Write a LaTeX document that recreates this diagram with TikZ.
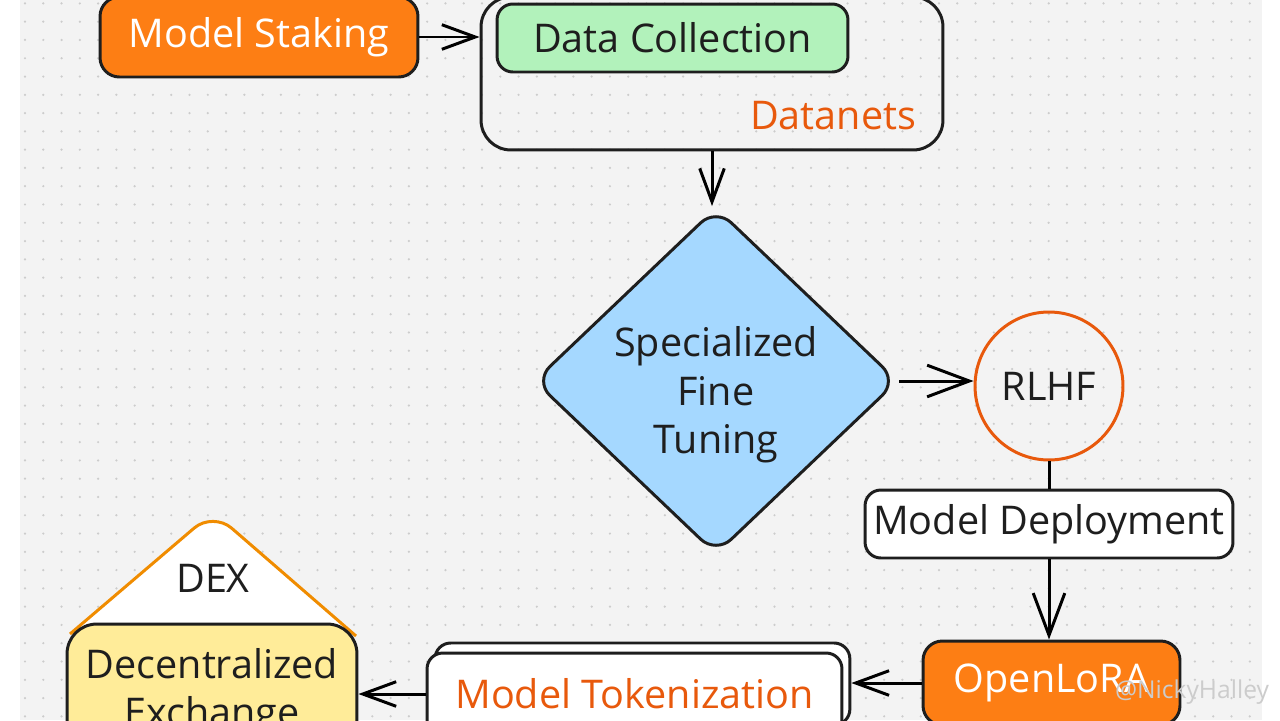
\documentclass[tikz,border=0pt]{standalone}
\usepackage{fontspec}
\setmainfont{Open Sans}
\usetikzlibrary{shapes.geometric,arrows.meta,shadows}
\definecolor{ink}{HTML}{1E1E1E}
\definecolor{orfill}{HTML}{FD7E14}
\definecolor{orline}{HTML}{E8590C}
\definecolor{ambr}{HTML}{F08C00}
\definecolor{mint}{HTML}{B2F2BB}
\definecolor{sky}{HTML}{A5D8FF}
\definecolor{butter}{HTML}{FFEC99}
\definecolor{paper}{HTML}{F3F3F3}
\definecolor{dotc}{HTML}{CCCCCC}

\begin{document}
\begin{tikzpicture}[x=0.02cm,y=-0.02cm,line width=1.7pt,
  every node/.style={font=\fontsize{22.5}{27.5}\selectfont,text=ink},
  box/.style={draw=ink,rounded corners=9pt},
  >={Straight Barb[length=19pt,width=14pt]},
  bigtip/.style={-{Straight Barb[length=24pt,width=18pt]}}]
\useasboundingbox (0,0) rectangle (1280,720);
\clip (0,0) rectangle (1280,720);
\fill[white] (0,0) rectangle (1280,720);
\fill[paper] (20,0) rectangle (1262,720);
\foreach \i in {0,...,67}
  \foreach \j in {0,...,39}
    \fill[dotc] (25+\i*18.28,3.4+\j*18.28) circle (0.7pt);

\node[box,fill=orfill,text=white,minimum width=6.36cm,minimum height=1.6cm,rounded corners=11pt] (stake) at (259,37) {Model Staking};
\node[box,minimum width=9.24cm,minimum height=3.06cm,rounded corners=17pt] (nets) at (712,73.5) {};
\node[box,fill=mint,minimum width=7.02cm,minimum height=1.36cm] (collect) at (672.5,38) {Data Collection};
\node[text=orline] (netsname) at (833,116) {Datanets};
\node[box,diamond,fill=sky,minimum width=7.28cm,minimum height=6.8cm,inner sep=-3pt,align=center,text height=88pt,rounded corners=12pt] (tune) at (716,381) {Specialized\\Fine\\Tuning};
\node[draw=orline,circle,minimum size=2.96cm] (rlhf) at (1049,386) {RLHF};
\node[box,fill=white,minimum width=7.36cm,minimum height=1.36cm] (deploy) at (1049,524) {Model Deployment};
\node[box,fill=orfill,text=white,minimum width=5.14cm,minimum height=1.68cm,rounded corners=11pt] (lora) at (1051.5,683) {OpenLoRA};
\node[box,fill=white,text=orline,minimum width=8.3cm,minimum height=1.64cm,copy shadow={shadow xshift=4.5pt,shadow yshift=5.7pt}] (token) at (634.5,694) {Model Tokenization};

\filldraw[draw=ambr,fill=white,rounded corners=14pt] (70,634) -- (213,512) -- (356,636);
\node[box,fill=butter,minimum width=5.8cm,minimum height=2.72cm,rounded corners=17pt,align=center] (dex) at (212,692) {Decentralized\\Exchange};
\node (dexname) at (213,578) {DEX};

\draw[->] (stake.east) -- (stake.east -| nets.west);
\draw[->] (nets.south) -- (nets.south |- tune.north);
\draw[bigtip] (tune.east) -- (tune.east -| rlhf.west);
\draw (rlhf.south) -- (deploy.north);
\draw[bigtip] (deploy.south) -- (deploy.south |- lora.north);
\draw[->] (lora.west) -- ([xshift=4.5pt]lora.west -| token.east);
\draw[->] (token.west) -- (token.west -| dex.east);

\node[text=gray!40,font=\fontsize{14}{16}\selectfont] (mark) at (1192,692) {@NickyHalley};
\end{tikzpicture}
\end{document}
